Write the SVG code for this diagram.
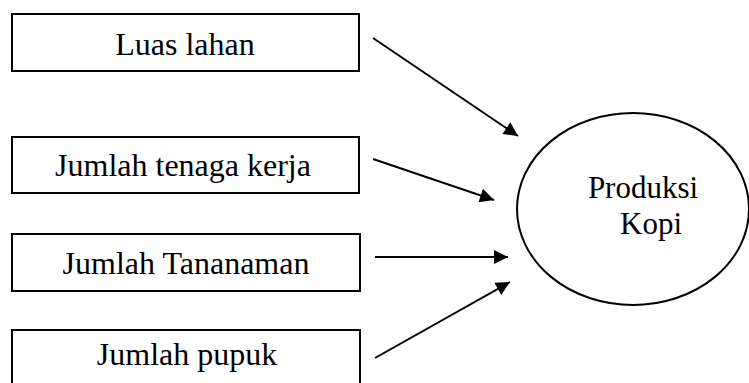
<svg xmlns="http://www.w3.org/2000/svg" width="749" height="383" viewBox="0 0 749 383">
<style>
.box{fill:#fff;stroke:#000;stroke-width:2}
.lbl{font-family:"Liberation Serif","Times New Roman",serif;font-size:32px;fill:#000;text-anchor:middle}
.el{font-size:31px}
.conn{stroke:#000;stroke-width:2;fill:none;marker-end:url(#ah)}
</style>
<defs>
<marker id="ah" viewBox="0 0 10 10" refX="10" refY="5" markerWidth="8" markerHeight="7" markerUnits="strokeWidth" orient="auto">
<path d="M0,0 L10,5 L0,10 z" fill="#000"/>
</marker>
</defs>
<rect width="749" height="383" fill="#fff"/>
<g id="node-luas">
<rect class="box" x="12" y="14" width="347" height="57"/>
<text class="lbl" x="185" y="55">Luas lahan</text>
</g>
<g id="node-tenaga">
<rect class="box" x="12" y="137" width="347" height="56"/>
<text class="lbl" x="183" y="176">Jumlah tenaga kerja</text>
</g>
<g id="node-tanaman">
<rect class="box" x="12" y="234" width="348" height="57"/>
<text class="lbl" x="186" y="274">Jumlah Tananaman</text>
</g>
<g id="node-pupuk">
<rect class="box" x="12" y="330" width="348" height="60"/>
<text class="lbl" x="187" y="365">Jumlah pupuk</text>
</g>
<g id="node-produksi">
<ellipse class="box" cx="633" cy="209" rx="116" ry="96"/>
<text class="lbl el" x="643" y="198">Produksi</text>
<text class="lbl el" x="651" y="234">Kopi</text>
</g>
<g id="connectors">
<line class="conn" x1="373" y1="38" x2="518" y2="136"/>
<line class="conn" x1="373" y1="159" x2="494" y2="200"/>
<line class="conn" x1="375" y1="257" x2="508" y2="257"/>
<line class="conn" x1="375" y1="358" x2="510" y2="282"/>
</g>
</svg>
